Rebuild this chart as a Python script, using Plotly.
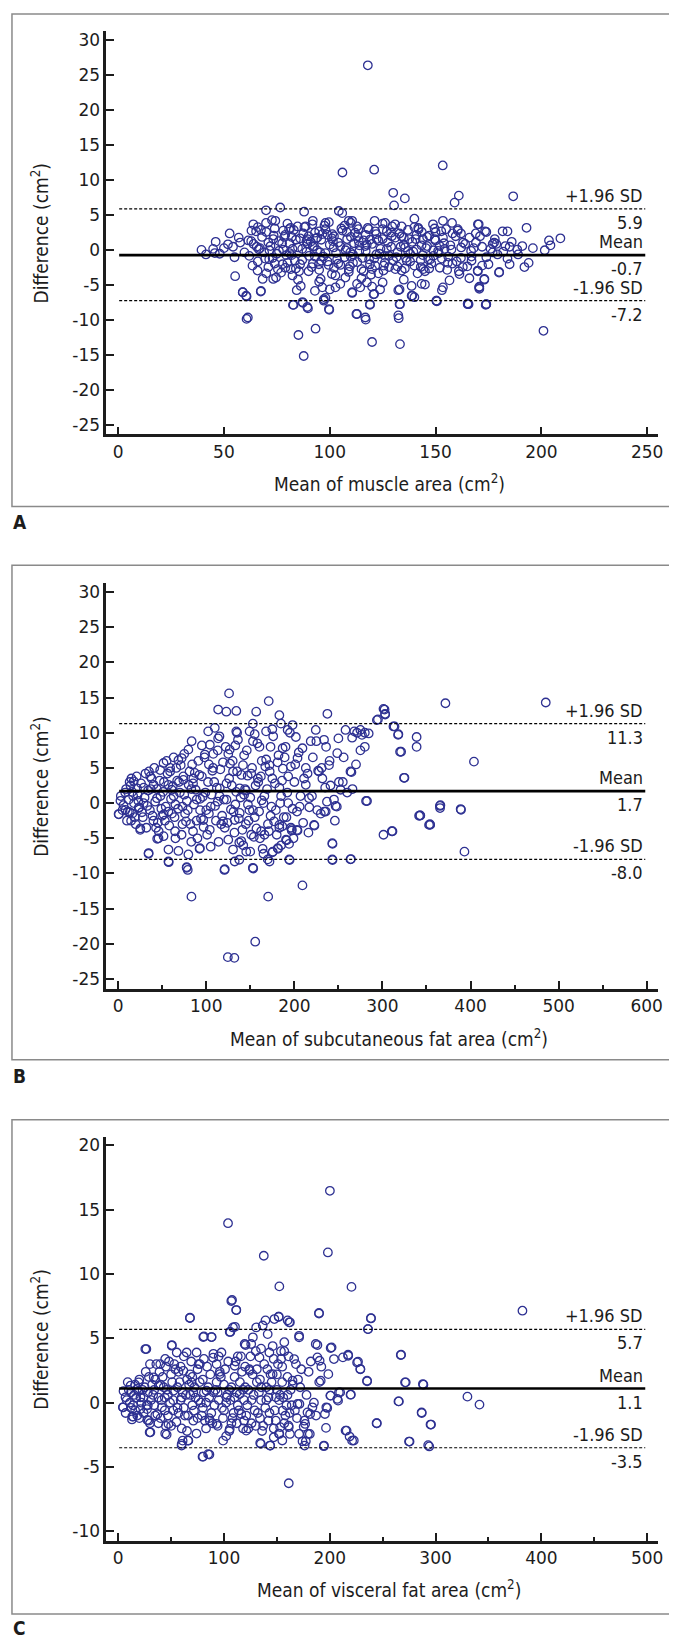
import plotly.graph_objects as go

# ---------------- data ----------------
panel_letters = ["A", "B", "C"]
x_titles = ["Mean of muscle area (cm<sup>2</sup>)",
            "Mean of subcutaneous fat area (cm<sup>2</sup>)",
            "Mean of visceral fat area (cm<sup>2</sup>)"]
y_title = "Difference (cm<sup>2</sup>)"
line_labels = ["+1.96 SD", "Mean", "-1.96 SD"]

# [upper limit, mean, lower limit]
a_stats = [5.9, -0.7, -7.2]
b_stats = [11.3, 1.7, -8.0]
c_stats = [5.7, 1.1, -3.5]

a_xticks = [0, 50, 100, 150, 200, 250]
a_yticks = [-25, -20, -15, -10, -5, 0, 5, 10, 15, 20, 25, 30]
b_xticks = [0, 100, 200, 300, 400, 500, 600]
b_yticks = [-25, -20, -15, -10, -5, 0, 5, 10, 15, 20, 25, 30]
c_xticks = [0, 100, 200, 300, 400, 500]
c_yticks = [-10, -5, 0, 5, 10, 15, 20]

a_pairs = [
    (118, 26.4), (106, 11.1), (121, 11.5), (153.4, 12.1), (130, 8.2), (135.5, 7.4), (130.4, 6.4),
    (161, 7.8), (159, 6.8), (186.7, 7.7), (193, 3.2), (184, 2.7), (209, 1.7), (203.6, 1.4),
    (204.3, 0.7), (201.6, 0), (194, -1.8), (192, -2.4), (185, -2), (180, -3.2), (173, -4.2),
    (170.7, -5.2), (170, -3), (174, -7.7), (165.6, -7.7), (150.6, -7.3), (133, -7.7), (119, -7.7),
    (188.6, 0.1), (185, 0.5), (178.7, 0.9), (177, 0.9), (184, -1.2), (174, 2.6), (170, 3.7), (160.5, 3),
    (58.9, -6.0), (60.7, -6.6), (67.4, -5.9), (60.7, -9.8), (82.6, -7.8), (87.3, -7.5), (89.7, -8.3),
    (97.2, -7.2), (98, -6.8), (99.8, -8.5), (85.2, -12.1), (87.7, -15.1), (93.3, -11.2), (110.6, -6.1),
    (112.6, -9.1), (117, -9.9), (119, -7.8), (120, -13.1), (121, -6.25), (132.6, -9.7), (133.2, -13.4),
    (133, -5.6), (138.7, -6.5), (140, -6.7), (150.5, -7.2), (153, -5.7), (165.2, -7.7), (170.7, -5.5),
    (173.7, -7.8), (201, -11.5),
    (39.4, 0.05), (41.5, -0.6), (44.9, 0.2), (46.1, 1.2), (45.7, -0.4), (52.7, 2.4), (51.9, 0.85),
    (54.3, 0.5), (57.7, 1.1), (59.7, -0.3), (55.3, -3.7), (58.9, -6.0), (60.5, -6.5), (61.3, -9.6),
    (63.9, 3.7), (62.9, 1.3), (65.2, 2.7), (66.5, 0.14), (67.5, -5.8), (68.3, -4.1), (65.9, -2.9),
    (69.9, 5.7), (69.9, 3.9), (72.7, 4.3), (74.3, 4.2), (73.3, 1.6), (76.6, 6.1), (71.4, -1.3),
    (74.6, -3.9), (73.3, -4.1), (77.7, -2.0), (78.5, 1.9), (80.8, 3.0), (82.4, 0.2), (81.6, -2.7),
    (82.4, -3.6), (84.4, -5.7), (82.9, -7.8), (87.1, -7.4), (87.9, 5.5), (89.4, -8.1), (86.3, -5.1),
    (84.8, 3.4), (88.6, 3.4), (91.8, 3.7), (89.4, 1.6), (92.6, 0.6), (90.2, -0.8), (94.1, 1.8),
    (96.5, 2.3), (94.9, -2.0), (95.7, -4.1), (96.5, -5.3), (93.0, -5.8), (97.2, -7.0), (99.6, -8.4),
    (98.0, 3.9), (99.6, 4.0), (101.2, 2.3), (101.9, 0.4), (102.7, -3.6), (102.7, -5.3), (104.3, 5.6),
    (105.9, 5.3), (109.0, 4.2), (110.6, 4.2), (108.2, 1.6), (109.7, -0.3), (109.0, -2.7),
    (107.4, -3.9), (112.9, 3.4), (113.7, 1.3), (112.9, -4.8), (114.4, -5.3), (112.9, -9.1), (110.6, -6.0),
    (116.8, 0.6), (118.4, 3.0), (118.6, -1.3), (117.6, -4.6), (116.8, -9.6), (121.2, 4.2), (122.2, 1.6),
    (121.5, -2.2), (120.7, -6.3), (123.8, -5.6), (126.2, 3.9), (127.0, 0.2), (125.4, -2.9), (129.3, 2.0),
    (130.9, 3.7), (132.4, -5.7), (134.0, 3.4), (133.2, -7.7), (132.4, -9.3), (135.6, 0.4), (136.4, -1.5),
    (138.7, -5.1), (139.0, -6.5), (140.6, 1.6), (141.8, 3.2), (143.4, 0.7), (144.2, -2.7), (143.4, -4.8),
    (146.5, -1.3), (148.8, 3.7), (149.6, 1.6), (151.2, -0.1), (150.4, -7.2), (152.7, 2.7), (153.5, 4.2),
    (154.3, 0.2), (153.5, -5.3), (155.8, -1.8), (156.6, -4.3), (157.8, 3.9), (160.5, 2.8), (161.3, -3.4),
    (162.1, 0.4), (162.9, -2.4), (165.2, -7.6), (166.0, -4.0), (166.8, -0.1), (169.1, 1.1), (169.9, -2.9),
    (170.6, -5.3), (170.4, 3.7), (173.4, 2.7), (173.1, -4.1), (173.9, -7.7), (177.7, 1.1), (179.3, -0.6),
    (180.1, -3.1), (181.7, 2.7),
    (62, -0.8), (64, 0.9), (66, -1.6), (68, 1.9), (69, -0.3), (70, 2.6), (71, -2.4), (72, 0.6), (73, -1.1),
    (74, 3.1), (75, -0.5), (76, 1.3), (77, -3.2), (78, 0.1), (79, 2.2), (80, -1.8), (81, 1.0), (82, -0.7),
    (83, 2.9), (84, -2.6), (85, 0.4), (86, 1.7), (87, -1.4), (88, 3.3), (89, -0.2), (90, -3.0), (91, 1.2),
    (92, -1.9), (93, 2.5), (94, 0.0), (95, -2.8), (96, 1.5), (97, -0.9), (98, 3.0), (99, -1.6), (100, 0.8),
    (101, -3.4), (102, 2.0), (103, -0.4), (104, 1.1), (105, -2.1), (106, 2.8), (107, -1.0), (108, 0.3),
    (109, -3.1), (110, 1.9), (111, -0.6), (112, 2.5), (113, -1.7), (114, 0.7), (115, -2.7), (116, 1.4),
    (117, -0.1), (118, 3.2), (119, -2.0), (120, 0.9), (121, -1.2), (122, 2.3), (123, -3.3), (124, 0.2),
    (125, 1.6), (126, -0.8), (127, 2.7), (128, -2.4), (129, 0.5), (130, -1.5), (131, 1.8), (132, -0.3),
    (133, 2.4), (134, -2.9), (135, 0.8), (136, -1.1), (137, 2.9), (138, -0.5), (139, 1.2), (140, -2.2),
    (141, 0.1), (142, 3.0), (143, -1.4), (144, 1.6), (145, -3.0), (146, 0.6), (147, 2.1), (148, -1.9),
    (149, 0.0), (150, 1.4), (152, -2.5), (154, 1.0), (156, -0.9), (158, 2.4), (160, -1.6), (163, 1.1),
    (165, -2.3), (168, 0.3), (171, 2.0), (174, -1.0), (177, -0.3), (183, 0.6), (189, -0.6), (196, 0.3),
    (67, 0.3), (71, 1.1), (74, -1.9), (78, 2.8), (81, -0.4), (84, 1.5), (87, 0.2), (90, 2.0), (93, -0.9),
    (96, -1.5), (99, 2.2), (102, -2.5), (105, 0.6), (108, 2.6), (111, -1.8), (114, -0.1), (117, 2.2),
    (120, -2.7), (123, 1.4), (126, -1.8), (129, 2.5), (132, -2.3), (135, 1.8), (138, -1.6), (141, 2.2),
    (144, -0.7), (147, -2.6), (150, 2.6), (153, -1.2), (157, 0.7), (161, -3.0), (166, 1.8), (85, -4.2),
    (95, -4.5), (105, -4.8), (115, -4.0), (125, -4.6), (135, -4.2), (145, -4.9), (80, 3.8), (92, 4.2),
    (110, 3.9), (125, 3.8), (140, 4.5), (100, -5.6), (120, -5.2), (55, -1.0), (50, 0.3), (48, -0.5), (57, 1.8),
    (61.5, 1.4), (63.5, -2.2), (65.5, 0.5), (67.5, 2.9), (69.5, -1.2), (71.5, 0.0), (73.5, 2.1),
    (75.5, -2.7), (77.5, 1.0), (79.5, -0.7), (81.5, 3.2), (83.5, -1.5), (85.5, -3.0), (87.5, 2.4),
    (89.5, 0.9), (91.5, -2.4), (93.5, 1.7), (95.5, -0.3), (97.5, 3.5), (99.5, -2.1), (101.5, 1.3),
    (103.5, -1.3), (105.5, 3.1), (107.5, 0.0), (109.5, -2.3), (111.5, 1.0), (113.5, 3.0), (115.5, -1.1),
    (117.5, 0.8), (119.5, -3.5), (121.5, 2.7), (123.5, -0.5), (125.5, -2.2), (127.5, 1.1), (129.5, 3.4),
    (131.5, -1.0), (133.5, 0.5), (135.5, -2.6), (137.5, 1.6), (139.5, -0.2), (141.5, -3.3), (143.5, 2.6),
    (145.5, 0.3), (147.5, -1.3), (149.5, 3.1), (151.5, -0.4), (153.5, 1.8), (155.5, -2.8), (157.5, 0.1),
    (159.5, 2.0), (162, -1.1), (164, 0.9), (167, -1.5), (169, 2.4), (172, 0.5), (175, -2.0), (178, 1.6),
    (182, -0.2), (186, 1.2), (191, 0.6),
    (63, 2.8), (66, 3.3), (70, -3.3), (76, -0.1), (79, -2.5), (82, 1.9), (86, -2.0), (89, 1.3), (92, 0.5),
    (95, 2.7), (98, -0.4), (101, 1.7), (104, -1.9), (107, 3.5), (110, -0.9), (113, 2.0), (116, -3.0),
    (119, 1.5), (122, -0.6), (125, 3.0), (128, -0.8), (131, -2.7), (134, 2.0), (137, -0.1), (140, 3.3),
    (143, -2.4), (146, 1.9), (149, -0.8), (152, 0.6), (155, 3.0), (158, -1.9), (162, 2.4), (167, -0.9),
    (172, -2.2), (176, 0.2),
]

b_pairs = [
    (2.6, 0.33), (0.8, -1.6), (8.3, -0.95), (13.2, -1.3), (17.7, 3.1), (15.8, 1.6), (21.4, 2.1),
    (14.7, -2.5), (23.3, -0.7), (25.2, -3.6), (28.9, 0.0), (34.6, -7.1), (36.4, 3.8), (40.2, 2.6),
    (44.0, 0.7), (45.8, -5.0), (47.7, 4.7), (51.5, 5.7), (51.5, -1.6), (57.1, -6.6), (57.1, -8.3),
    (59.0, 5.0), (60.9, 1.9), (64.6, -4.0), (68.4, -6.8), (68.4, 6.1), (72.1, 6.4), (74.0, 3.3),
    (77.8, -9.2), (79.7, -7.3), (79.7, 7.6), (83.4, 8.8), (85.3, 3.5), (89.1, 0.5), (92.8, -6.4),
    (96.6, -2.4), (98.4, 6.9), (102.2, 10.2), (104.1, 8.3), (107.8, 5.0), (109.7, 10.7), (113.5, 13.3),
    (113.5, 9.2), (115.3, 2.1), (119.1, -2.6), (121.0, -9.4), (122.8, 13.0), (125.9, 15.6), (126.6, 7.6),
    (130.4, 4.5), (132.3, -2.4), (132.3, -8.3), (134.1, 13.1), (134.1, 10.2), (137.9, 2.1), (139.8, -5.4),
    (141.7, 5.4), (145.4, -6.9), (147.3, -0.2), (149.2, 10.2), (151.1, -4.5), (152.9, -9.2), (152.9, 11.3),
    (156.7, 13.0), (158.6, 3.5), (160.4, 8.0), (162.3, -4.0), (166.1, -4.5), (167.9, 10.2), (170.9, 14.5),
    (171.7, 5.4), (169.8, -8.0), (175.5, -6.9), (181.1, -6.4), (183.0, 12.5), (183.0, -3.1), (184.8, 11.3),
    (186.7, 7.8), (190.5, -5.2), (192.4, 10.4), (194.2, -8.0), (196.1, -3.5), (198.0, 11.1), (201.7, 9.4),
    (203.6, -3.9), (203.6, 6.4), (209.2, 7.8), (209.2, -11.7), (213.0, 5.0), (216.7, 0.7), (218.6, 8.8),
    (222.4, -3.1), (224.3, 10.4), (228.0, 4.5), (231.8, 3.5), (233.7, 9.0), (235.6, -1.2), (237.5, 12.7),
    (239.3, 5.4), (243.1, -5.7), (243.1, -8.0), (248.7, 7.1), (250.6, 3.0), (252.5, 1.9), (246.8, -0.4),
    (258.1, 10.4), (263.7, 4.5), (263.7, -8.0), (265.6, 9.3), (271.2, 10.0), (276.8, 9.7), (282.5, 0.3),
    (284.4, 9.9), (293.7, 11.8), (301.2, 13.4), (303.1, 12.6), (301.2, -4.5), (310.6, -4.0), (312.5, 10.9),
    (318.1, 9.8), (320.0, 7.3), (324.5, 3.6), (338.8, 9.4), (338.8, 8.0), (341.6, -1.8), (352.9, -3.1),
    (365.8, -0.3), (371.5, 14.2), (403.9, 5.9), (485.4, 14.3), (388.8, -0.85), (302.4, 13.3),
    (303.0, 12.7), (294.9, 11.9), (313.7, 10.9), (317.8, 9.7), (321.2, 7.3), (325.0, 3.6), (281.4, 0.3),
    (365.2, -0.4), (342.6, -1.75), (353.9, -3.0), (264.8, 4.4), (268, 10.2), (275, 10.4), (280, 10.0),
    (0.5, -1.56), (34.5, -7.2), (57.4, -8.4), (83.2, -13.3), (77.8, -9.1), (79, -9.5), (120.6, -9.5),
    (124.5, -21.9), (131.9, -22.0), (155.6, -19.7), (153.3, -9.3), (170.3, -13.3), (171.8, -8.3),
    (194.6, -8.1), (243.3, -8.1), (243.3, -5.8), (264.2, -7.95), (311.4, -4.0), (343, -1.75), (354.2, -3.1),
    (393.1, -6.9), (389.2, -0.95), (365.4, -0.7), (222.8, -3.2), (234, -1.2), (248.2, -0.5), (186.3, -3.3),
    (191.2, -5.3), (197, -3.7), (203, -3.8), (181.5, -6.5), (175.1, -7.0), (44.3, -5.07), (51.5, -4.7),
    (92.4, -6.5), (137.5, -8.05), (130.4, -6.6), (149.9, -6.9), (137.5, -5.6),
    (5, -1.0), (8, 1.5), (10, -2.5), (12, 0.5), (14, 2.5), (16, -1.5), (18, 0.0), (20, -3.0), (22, 1.2),
    (24, -0.6), (26, 2.8), (28, -2.0), (30, 0.8), (32, -3.5), (34, 1.8), (36, -1.0), (38, 3.5), (40, -2.5),
    (42, 0.2), (44, 2.0), (46, -4.0), (48, 1.0), (50, -1.8), (52, 3.0), (54, -0.5), (56, 4.2), (58, -3.2),
    (60, 0.6), (62, 2.4), (64, -2.0), (66, 5.0), (68, -0.8), (70, 1.5), (72, -4.5), (74, 3.8), (76, -1.5),
    (78, 0.3), (80, 2.6), (82, -3.0), (84, 5.5), (86, -0.2), (88, 1.9), (90, -5.0), (92, 4.0), (94, -2.2),
    (96, 0.9), (98, 6.5), (100, -1.0), (102, 3.0), (104, -3.8), (106, 1.2), (108, 7.0), (110, -0.4),
    (112, 2.2), (114, -5.5), (116, 4.8), (118, -1.8), (120, 0.5), (122, 8.0), (124, -2.8), (126, 3.5),
    (128, -0.9), (130, 6.0), (132, -4.2), (134, 1.6), (136, 9.0), (138, -1.4), (140, 4.0), (142, -6.0),
    (144, 2.0), (146, 7.5), (148, -2.5), (150, 0.8), (152, 5.0), (154, -4.8), (156, 2.5), (158, 8.5),
    (160, -1.2), (162, 3.8), (164, -6.5), (166, 1.0), (168, 6.2), (170, -3.0), (172, 4.5), (174, -0.5),
    (176, 9.5), (178, 2.8), (180, -4.5), (182, 6.8), (184, 0.0), (186, 3.2), (188, -2.0), (190, 8.0),
    (192, 1.5), (194, -5.8), (196, 5.2), (198, -0.8), (200, 3.0), (205, 7.2), (210, -2.8), (215, 4.2),
    (220, 1.0), (225, 8.8), (230, -1.5), (235, 2.2), (240, 6.0), (245, 0.5), (250, 9.2), (255, 3.0),
    (260, 1.5), (270, 5.5), (280, 8.0),
    (15, 3.5), (25, -3.8), (35, 4.5), (45, -2.8), (55, 6.0), (65, -5.0), (75, 7.0), (85, -4.0), (95, 8.2),
    (105, -6.2), (115, 9.5), (125, -5.2), (135, 10.0), (145, -3.0), (155, 9.8), (165, -7.2), (175, 10.5),
    (185, -6.0), (195, 10.0), (63, 1.0), (73, -0.5), (83, 2.0), (93, 0.6), (103, -1.5), (113, 0.2),
    (123, 2.8), (133, -0.2), (143, 1.2), (153, -1.0), (163, 0.4), (173, -1.8), (183, 2.2), (193, 0.0),
    (203, -1.2), (213, 2.6), (57, -1.2), (67, 3.2), (77, -2.6), (87, 4.3), (97, -3.4), (107, 4.6),
    (117, -3.0), (127, 5.6), (137, -2.2), (147, 3.9), (157, -3.6), (167, 5.2), (177, -2.6), (187, 4.9),
    (197, -3.9), (207, 1.0), (217, -0.6), (227, 4.6), (237, 0.2),
    (3, 1.0), (6, -0.3), (9, 2.0), (11, -1.2), (13, 3.0), (17, 1.0), (19, -2.0), (21, 3.8), (23, 0.3),
    (27, -1.3), (29, 2.2), (31, 4.2), (33, -0.4), (37, 2.0), (39, -1.8), (41, 5.0), (43, -3.5), (47, 3.2),
    (49, -0.8), (51, 1.6), (53, -2.5), (57, 2.6), (59, 4.5), (61, -1.5), (63, 6.5), (65, -0.2), (69, 3.0),
    (71, 5.4), (73, -3.0), (75, 1.2), (79, -1.0), (81, 4.5), (83, -5.5), (85, 2.8), (89, -2.5), (91, 6.0),
    (93, -1.0), (95, 3.8), (99, 1.5), (101, -4.5), (103, 5.5), (105, -0.5), (109, 3.0), (111, -2.5),
    (113, 7.5), (115, 1.0), (119, 5.8), (121, -3.5), (123, 0.5), (125, 7.0), (129, 2.5), (131, -1.2),
    (133, 8.2), (135, 4.5), (139, 0.8), (141, -3.8), (143, 6.8), (145, 1.8), (149, -1.0), (151, 4.2),
    (153, 8.8), (155, -2.0), (159, 3.0), (161, -5.0), (163, 6.0), (165, 0.0), (169, 2.0), (171, -4.0),
    (173, 8.0), (175, 3.5), (179, -1.0), (181, 5.8), (183, -3.5), (185, 1.0), (189, 6.5), (191, -2.0),
    (193, 3.8), (199, -5.0), (201, 5.5), (206, -0.5), (211, 3.5), (216, -4.2), (221, 6.5), (226, -1.0),
    (231, 5.0), (236, 8.0), (241, 2.5), (246, -2.5), (256, 6.5), (266, 2.0), (275, 7.5),
]

c_pairs = [
    (4.7, -0.36), (6.9, 0.42), (11.6, 1.32), (14.1, -1.08), (17.8, 1.07), (19.4, 1.58), (21.0, 0.42),
    (25.6, 4.17), (27.2, -0.5), (28.8, -1.4), (29.7, -2.3), (33.5, 1.97), (38.2, 1.32), (39.7, 3.0),
    (41.3, -0.36), (44.4, 3.4), (44.4, -2.4), (47.5, -1.65), (50.6, 4.43), (52.2, 0.93), (55.3, 3.9),
    (60.0, -3.2), (60.9, -2.95), (61.6, 2.48), (64.7, 3.9), (66.3, -2.95), (67.8, 6.6), (69.4, 1.58),
    (71.6, -0.62), (74.1, 3.9), (77.2, 3.0), (79.7, -4.2), (80.4, 5.1), (83.5, 0.93), (85.0, -4.0),
    (86.6, -1.4), (88.2, 5.1), (89.7, 3.5), (92.9, -1.65), (96.0, 2.22), (97.6, 3.9), (99.1, -2.95),
    (102.3, 0.42), (105.4, -2.04), (106.9, 7.9), (105.4, 5.5), (108.5, 5.85), (110.1, 2.87), (111.6, 7.2),
    (114.8, 0.67), (116.3, -0.88), (119.5, 4.56), (121.0, -2.17), (124.2, 2.48), (125.7, 4.56),
    (127.3, 5.08), (130.4, 5.85), (133.5, 3.52), (134.2, -3.13), (135.1, 1.2), (136.6, 6.0), (139.2, 6.4),
    (141.3, 5.33), (142.9, 3.9), (143.5, -3.33), (146.0, 2.22), (147.6, 6.5), (149.1, 0.42), (151.7, 6.68),
    (152.3, -2.43), (153.8, 4.0), (155.4, -0.62), (157.0, 4.7), (160.1, 6.4), (161.0, -1.78), (162.3, 6.25),
    (162.3, -2.43), (164.8, 1.71), (166.3, 3.39), (169.5, -0.1), (171.0, 5.2), (171.0, -2.43),
    (174.2, -3.0), (176.7, -1.65), (177.3, -3.0), (178.9, -0.75), (181.1, -2.43), (183.6, -0.36),
    (186.7, 4.56), (188.3, 3.52), (189.8, 6.93), (190.4, 3.26), (191.4, 1.71), (194.5, -3.33),
    (195.4, -0.88), (196.7, -0.36), (198.6, 2.22), (200.8, 0.55), (201.7, 4.3), (203.9, 3.39),
    (207.1, 0.29), (208.6, 0.8), (212.4, 3.52), (214.9, -2.17), (217.4, 3.65), (219.6, 0.62),
    (221.1, -2.95), (225.8, 3.13), (228.9, 2.6), (235.2, 1.71), (236.1, 5.72), (238.9, 6.55),
    (244.5, -1.6), (264.9, 0.1), (267.1, 3.7), (271.1, 1.58), (274.9, -3.02), (286.9, -0.8), (288.5, 1.4),
    (293.0, -3.3), (295.2, -1.7),
    (200.1, 16.47), (103.8, 13.95), (137.6, 11.42), (198.2, 11.68), (152.3, 9.04), (107.6, 7.98),
    (111.6, 7.2), (67.8, 6.58), (189.8, 6.97), (110.4, 5.9), (106, 5.5), (151.7, 6.68), (161.6, 6.24),
    (171, 5.08), (26.6, 4.17), (50.7, 4.48), (188.3, 4.48), (200.8, 4.25), (81, 5.15), (88.2, 5.1),
    (120.4, 4.48), (220.5, 9.0), (382.1, 7.15), (238.9, 6.58), (236.1, 5.72), (267.4, 3.73), (217.3, 3.73),
    (226.7, 3.19), (228.9, 2.62),
    (80.2, -4.19), (86.2, -4.03), (161.2, -6.26), (30.4, -2.3), (45.8, -2.48), (59.9, -3.33), (66, -2.94),
    (143.7, -3.33), (134.8, -3.2), (155.1, -2.94), (176.2, -3.33), (194.4, -3.38), (196.4, -1.96),
    (197.6, -0.41), (200.5, 0.55), (207.8, 0.16), (209.8, 0.8), (219.9, 0.63), (215.9, -2.17),
    (218.7, -2.63), (222.7, -2.94), (235.3, 1.66), (244.2, -1.6), (265.3, 0.1), (271.8, 1.58),
    (275.4, -3.02), (286.8, -0.75), (288, 1.45), (294, -3.4), (295.7, -1.7), (330.1, 0.47), (341.5, -0.15),
    (153.1, -1.9), (161.2, -1.9), (147, -2.69), (175.3, -1.86), (179.4, -2.43), (181.4, -0.88),
    (171.3, -0.1), (4.4, -0.36), (13.3, -1.08), (27.5, -1.34),
    (8, 0.2), (10, 1.0), (12, -0.4), (15, 0.6), (18, -1.0), (20, 1.8), (22, 0.0), (24, -0.8), (26, 2.4),
    (28, 0.8), (30, -1.6), (32, 1.4), (34, -0.2), (36, 3.0), (38, 0.4), (40, -1.2), (42, 2.0), (44, -0.6),
    (46, 1.0), (48, 3.2), (50, -1.8), (52, 0.2), (54, 2.6), (56, -0.4), (58, 1.6), (60, -2.0), (62, 3.6),
    (64, 0.6), (66, -1.0), (68, 2.2), (70, -0.2), (72, 1.2), (74, -2.4), (76, 3.0), (78, 0.0), (80, 1.8),
    (82, -1.4), (84, 2.8), (86, 0.4), (88, -0.8), (90, 3.8), (92, 1.0), (94, -1.8), (96, 2.4), (98, -0.4),
    (100, 1.4), (102, -2.6), (104, 3.2), (106, 0.2), (108, -1.2), (110, 2.0), (112, 0.8), (114, -0.6),
    (116, 3.6), (118, -2.0), (120, 1.2), (122, -0.2), (124, 2.6), (126, -1.6), (128, 0.6), (130, 4.0),
    (132, -0.8), (134, 1.8), (136, -2.2), (138, 3.0), (140, 0.2), (142, -1.4), (144, 2.2), (146, 4.4),
    (148, -0.6), (150, 1.0), (152, -2.4), (154, 3.4), (156, 0.4), (158, -1.0), (160, 2.0), (164, -0.2),
    (168, 3.0), (172, 1.2), (176, -1.4), (180, 2.4), (185, 0.0), (190, 1.6), (14, -0.2), (19, 0.9),
    (25, 1.2), (31, 0.2), (37, -0.9), (43, 1.2), (49, 0.0), (55, -1.5), (61, 0.8), (67, 1.4), (73, 0.4),
    (79, -1.0), (85, 1.2), (91, -0.2), (97, 2.0), (103, 0.6), (109, -0.8), (115, 1.6), (121, -1.0),
    (127, 2.2), (133, 0.8), (139, -0.4), (145, 1.6), (151, 3.0), (157, -1.6), (163, 1.0), (35, 1.8),
    (45, -1.8), (57, 2.4), (65, -2.2), (75, 2.6), (83, -2.0), (93, 3.0), (105, -2.2), (113, 3.6),
    (123, -2.0), (135, 4.2), (147, -2.0), (157, 4.0), (47, 0.6), (59, 0.2), (71, -1.4), (81, 0.8),
    (95, 0.2), (107, 1.2), (119, 0.2), (131, 1.6), (143, -0.8), (155, 1.6), (167, -0.6),
    (5, 0.9), (7, -0.8), (9, 1.6), (11, 0.0), (13, -1.3), (16, 1.4), (17, 0.4), (21, -0.5), (23, 1.0),
    (27, -0.2), (29, 2.0), (33, 0.6), (35, -1.0), (39, 2.4), (41, 0.2), (45, 2.8), (47, -1.0), (51, 1.6),
    (53, 3.0), (57, -0.8), (59, 2.8), (63, -1.0), (65, 1.8), (69, 3.2), (71, 0.8), (75, -1.2), (77, 1.6),
    (81, 3.4), (83, 0.0), (87, 2.2), (89, -1.6), (93, 1.6), (95, 3.6), (99, -1.2), (101, 2.6), (105, 1.0),
    (107, -1.6), (111, 3.2), (113, -0.2), (117, 2.4), (119, -1.4), (123, 1.0), (125, 3.6), (129, -0.6),
    (131, 2.6), (135, 0.2), (137, -1.8), (141, 2.6), (143, 1.0), (147, 3.4), (149, -1.4), (153, 0.6),
    (155, 2.8), (159, -0.2), (161, 3.6), (165, 1.4), (169, -1.2), (173, 2.6), (178, 0.6), (182, 3.2),
    (187, -1.0), (192, 2.8), (20, -1.2), (30, 3.0), (40, 1.4), (50, 2.2), (60, 0.4), (70, 2.0), (80, -0.4),
    (90, 0.8), (100, -0.6), (110, 0.4), (120, 2.8), (130, -1.8), (140, 1.2), (150, 2.2), (160, 0.6),
    (170, 1.8), (12, 0.8), (16, -0.6), (24, 0.4), (28, -0.2), (34, 1.0), (38, -1.6), (44, 0.4), (52, -0.6),
    (56, 1.2), (62, -0.4), (68, 0.6), (76, 0.2), (86, -1.2), (94, 0.8), (102, 0.0), (112, -1.6), (118, 1.0),
    (126, 0.2), (134, -1.2), (142, 0.4), (152, 0.2), (162, -0.8),
]

a_x = [p[0] for p in a_pairs]; a_y = [p[1] for p in a_pairs]
b_x = [p[0] for p in b_pairs]; b_y = [p[1] for p in b_pairs]
c_x = [p[0] for p in c_pairs]; c_y = [p[1] for p in c_pairs]

# ---------------- layout geometry (pixels) ----------------
W, H = 677, 1637
AX_L, AX_R = 99, 655
panels = [
    dict(x=a_x, y=a_y, stats=a_stats, xt=a_xticks, yt=a_yticks, xr=[-5.6, 255.2], yr=[-26.3, 31.3],
         top=22, bot=426, frame=(5, 498), letter_y=514, xtitle_y=475, minor=False),
    dict(x=b_x, y=b_y, stats=b_stats, xt=b_xticks, yt=b_yticks, xr=[-13.5, 613], yr=[-26.4, 31.25],
         top=575, bot=981, frame=(557, 1052), letter_y=1068, xtitle_y=1030, minor=True),
    dict(x=c_x, y=c_y, stats=c_stats, xt=c_xticks, yt=c_yticks, xr=[-11.3, 510.4], yr=[-10.76, 20.68],
         top=1129, bot=1534, frame=(1112, 1607), letter_y=1621, xtitle_y=1582, minor=True),
]

INK = "#1c1c1c"
MARK = "#2e3192"
COND = "DejaVu Sans Condensed, Liberation Sans Narrow, DejaVu Sans, sans-serif"
TICKF = "DejaVu Sans, sans-serif"

fig = go.Figure()
shapes, annos = [], []
lay = dict(width=W, height=H, margin=dict(l=0, r=0, t=0, b=0), paper_bgcolor="white",
           plot_bgcolor="white", showlegend=False, hovermode=False)

for i, p in enumerate(panels):
    n = "" if i == 0 else str(i + 1)
    xa, ya = "x" + n, "y" + n
    fig.add_trace(go.Scatter(x=p["x"], y=p["y"], mode="markers", xaxis=xa, yaxis=ya,
                             marker=dict(symbol="circle-open", size=8.5, color=MARK,
                                         line=dict(width=1.3, color=MARK))))
    xdict = dict(domain=[AX_L / W, AX_R / W], range=p["xr"], anchor=ya, showline=True,
                 linecolor=INK, linewidth=2.5, ticks="inside", ticklen=8, tickwidth=2,
                 tickcolor=INK, showgrid=False, zeroline=False, tickvals=p["xt"],
                 ticktext=[str(v) for v in p["xt"]],
                 tickfont=dict(family=TICKF, size=17, color=INK))
    if p["minor"]:
        xdict["minor"] = dict(ticks="inside", ticklen=4, tickwidth=1.5, tickcolor=INK,
                              dtick=50, tick0=0, showgrid=False)
    ydict = dict(domain=[1 - p["bot"] / H, 1 - p["top"] / H], range=p["yr"], anchor=xa,
                 showline=True, linecolor=INK, linewidth=2.5, ticks="inside", ticklen=8,
                 tickwidth=2, tickcolor=INK, showgrid=False, zeroline=False,
                 tickvals=p["yt"], ticktext=[str(v) for v in p["yt"]],
                 tickfont=dict(family=TICKF, size=17, color=INK))
    lay["xaxis" + n] = xdict
    lay["yaxis" + n] = ydict

    # frame around the panel
    f0, f1 = p["frame"]
    shapes.append(dict(type="rect", xref="paper", yref="paper", x0=4 / W, x1=672 / W,
                       y0=1 - f1 / H, y1=1 - f0 / H, line=dict(color="#8a8a8a", width=1.5),
                       layer="below"))
    # mean and limits of agreement
    lx0 = (112 - AX_L) / (AX_R - AX_L)
    lx1 = (642 - AX_L) / (AX_R - AX_L)
    for k, v in enumerate(p["stats"]):
        shapes.append(dict(type="line", xref=xa + " domain", yref=ya, x0=lx0, x1=lx1, y0=v, y1=v,
                           line=dict(color="black", width=2.6 if k == 1 else 1.1,
                                     dash="solid" if k == 1 else "3px,2px")))
        annos.append(dict(xref=xa + " domain", yref=ya, x=lx1, y=v, text=line_labels[k],
                          xanchor="right", yanchor="bottom", yshift=1, showarrow=False,
                          font=dict(family=COND, size=18, color=INK)))
        annos.append(dict(xref=xa + " domain", yref=ya, x=lx1, y=v, text=f"{v:.1f}",
                          xanchor="right", yanchor="top", yshift=-1, showarrow=False,
                          font=dict(family=COND, size=18, color=INK)))
    # axis titles
    annos.append(dict(xref="paper", yref="paper", x=384 / W, y=1 - p["xtitle_y"] / H,
                      text=x_titles[i], showarrow=False, xanchor="center", yanchor="middle",
                      font=dict(family=COND, size=19, color=INK)))
    annos.append(dict(xref="paper", yref="paper", x=32 / W, y=1 - (p["top"] + p["bot"]) / 2 / H,
                      text=y_title, textangle=-90, showarrow=False, xanchor="center",
                      yanchor="middle", font=dict(family=COND, size=19, color=INK)))
    # panel letter
    annos.append(dict(xref="paper", yref="paper", x=3 / W, y=1 - p["letter_y"] / H,
                      text="<b>" + panel_letters[i] + "</b>", showarrow=False, xanchor="left",
                      yanchor="middle", font=dict(family=COND, size=19, color=INK)))

lay["shapes"] = shapes
lay["annotations"] = annos
fig.update_layout(**lay)
fig.write_html("out.html", config={"displayModeBar": False})
